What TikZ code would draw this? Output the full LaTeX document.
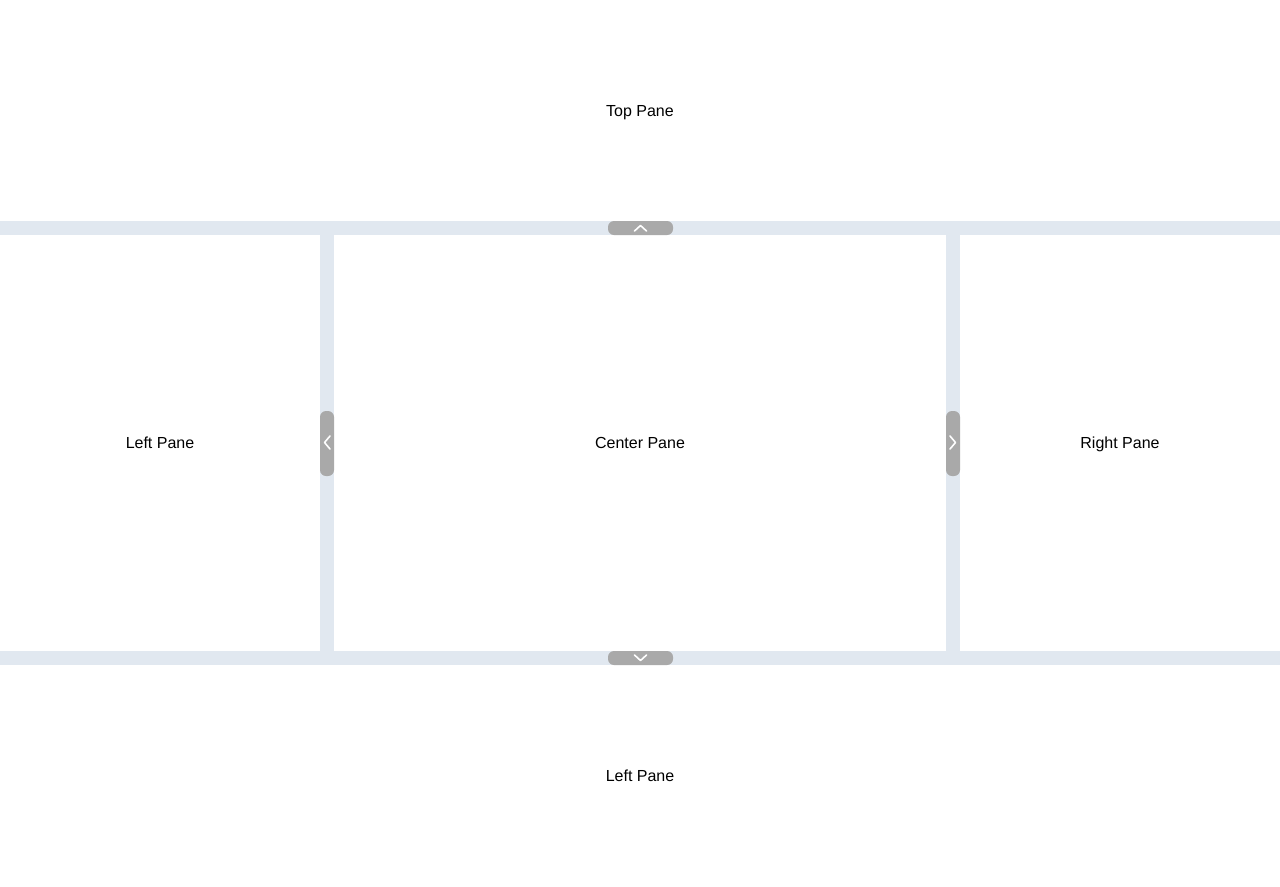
\documentclass[tikz,border=0pt]{standalone}
\usepackage{fontspec}
\setmainfont{Liberation Sans}
\definecolor{barc}{HTML}{E1E8F0}
\definecolor{handlec}{HTML}{A9A9A9}
\begin{document}
\begin{tikzpicture}[x=0.75pt,y=-0.75pt,
  pane/.style={fill=white,draw=none,inner sep=0pt,outer sep=0pt,text height=8.6pt,text depth=0pt,font=\fontsize{12}{14}\selectfont},
  bar/.style={fill=barc,draw=none},
  handle/.style={fill=handlec,draw=none,rounded corners=4.5pt},
  chev/.style={draw=white,line width=1.2pt,line cap=round,line join=round}]
\useasboundingbox (0,0) rectangle (1280,886);
\fill[white] (0,0) rectangle (1280,886);
% panes
\node[pane,minimum width=960pt,minimum height=165pt] (top) at (640,110.5) {Top Pane};
\node[pane,minimum width=240pt,minimum height=312pt] (left) at (160,443) {Left Pane};
\node[pane,minimum width=459pt,minimum height=312pt] (center) at (640,443) {Center Pane};
\node[pane,minimum width=240pt,minimum height=312pt] (right) at (1120,443) {Right Pane};
\node[pane,minimum width=960pt,minimum height=165pt] (bottom) at (640,776) {Left Pane};
% bars
\fill[bar] (0,221) rectangle (1280,235);
\fill[bar] (0,651) rectangle (1280,665);
\fill[bar] (320,235) rectangle (334,651);
\fill[bar] (946,235) rectangle (960,651);
% handles
\fill[handle] (608,221) rectangle (673,235);
\fill[handle] (608,651) rectangle (673,665);
\fill[handle] (320,411) rectangle (334,476);
\fill[handle] (946,411) rectangle (960,476);
% chevrons
\draw[chev] (634.5,231) -- (640.5,225.5) -- (646.5,231);
\draw[chev] (634.5,655) -- (640.5,660.5) -- (646.5,655);
\draw[chev] (330,436) -- (324.5,442.5) -- (330,449);
\draw[chev] (950,436) -- (955.5,442.5) -- (950,449);
\end{tikzpicture}
\end{document}
